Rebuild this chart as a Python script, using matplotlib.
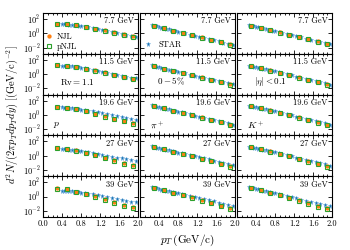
import numpy as np
import matplotlib
matplotlib.use('Agg')
import matplotlib.pyplot as plt
from matplotlib.ticker import FixedLocator, MultipleLocator, NullLocator, FormatStrFormatter

plt.rcParams['font.family'] = 'serif'
plt.rcParams['font.serif'] = ['cmr10']
plt.rcParams['mathtext.fontset'] = 'cm'
plt.rcParams['axes.formatter.use_mathtext'] = True

energies = ['7.7 GeV', '11.5 GeV', '19.6 GeV', '27 GeV', '39 GeV']
species = ['p', 'pi', 'K']

# STAR pT bins (pions, kaons); protons start at 0.4
star_pt = [0.25, 0.3, 0.35, 0.4, 0.45, 0.5, 0.55, 0.6, 0.65, 0.7, 0.75, 0.8,
           0.875, 0.95, 1.05, 1.15, 1.25, 1.35, 1.45, 1.55, 1.65, 1.75, 1.85, 1.95]
star_pt_p = star_pt[3:]
model_pt = [0.3, 0.5, 0.7, 0.9, 1.1, 1.3, 1.5, 1.7, 1.9]

# log10 of the yields
star_p = [
    [1.30, 1.28, 1.25, 1.22, 1.19, 1.15, 1.11, 1.07, 1.02, 0.95, 0.88, 0.75, 0.62, 0.48, 0.35, 0.21, 0.08, -0.06, -0.19, -0.33, -0.46],
    [1.20, 1.18, 1.15, 1.12, 1.08, 1.04, 1.00, 0.96, 0.91, 0.84, 0.76, 0.63, 0.50, 0.36, 0.23, 0.09, -0.05, -0.19, -0.33, -0.47, -0.60],
    [1.05, 1.03, 1.00, 0.97, 0.93, 0.89, 0.85, 0.81, 0.76, 0.69, 0.61, 0.49, 0.37, 0.25, 0.12, 0.00, -0.13, -0.26, -0.39, -0.52, -0.65],
    [0.95, 0.93, 0.90, 0.87, 0.83, 0.79, 0.75, 0.71, 0.66, 0.58, 0.50, 0.38, 0.26, 0.13, 0.01, -0.12, -0.25, -0.38, -0.51, -0.64, -0.77],
    [0.82, 0.80, 0.78, 0.75, 0.72, 0.68, 0.64, 0.60, 0.56, 0.49, 0.41, 0.30, 0.18, 0.06, -0.06, -0.18, -0.31, -0.43, -0.56, -0.69, -0.82],
]
star_pi = [
    [1.14, 1.05, 0.96, 0.87, 0.79, 0.71, 0.63, 0.55, 0.47, 0.39, 0.31, 0.23, 0.12, 0.00, -0.16, -0.32, -0.48, -0.64, -0.80, -0.96, -1.12, -1.28, -1.44, -1.60],
    [1.22, 1.13, 1.04, 0.95, 0.87, 0.79, 0.71, 0.63, 0.55, 0.47, 0.40, 0.32, 0.21, 0.10, -0.05, -0.20, -0.36, -0.51, -0.66, -0.82, -0.97, -1.12, -1.28, -1.43],
    [1.36, 1.27, 1.18, 1.09, 1.01, 0.93, 0.85, 0.77, 0.69, 0.61, 0.54, 0.46, 0.35, 0.24, 0.08, -0.08, -0.24, -0.40, -0.55, -0.71, -0.87, -1.03, -1.19, -1.35],
    [1.33, 1.24, 1.15, 1.07, 0.99, 0.91, 0.83, 0.75, 0.68, 0.60, 0.53, 0.45, 0.34, 0.23, 0.08, -0.07, -0.22, -0.37, -0.52, -0.67, -0.82, -0.97, -1.12, -1.27],
    [1.30, 1.22, 1.14, 1.06, 0.98, 0.90, 0.82, 0.74, 0.67, 0.59, 0.52, 0.44, 0.33, 0.22, 0.07, -0.08, -0.23, -0.38, -0.53, -0.68, -0.83, -0.98, -1.13, -1.28],
]
star_k = [
    [1.12, 1.05, 0.98, 0.91, 0.84, 0.76, 0.69, 0.61, 0.54, 0.46, 0.38, 0.31, 0.19, 0.07, -0.09, -0.25, -0.41, -0.57, -0.73, -0.89, -1.05, -1.21, -1.37, -1.53],
    [1.19, 1.12, 1.05, 0.98, 0.91, 0.83, 0.76, 0.68, 0.61, 0.53, 0.45, 0.38, 0.26, 0.14, -0.02, -0.18, -0.34, -0.50, -0.66, -0.82, -0.98, -1.14, -1.30, -1.46],
    [1.30, 1.23, 1.16, 1.09, 1.02, 0.94, 0.87, 0.79, 0.72, 0.64, 0.56, 0.49, 0.37, 0.25, 0.09, -0.07, -0.23, -0.39, -0.55, -0.71, -0.87, -1.03, -1.19, -1.35],
    [1.28, 1.21, 1.14, 1.07, 1.00, 0.92, 0.85, 0.77, 0.70, 0.62, 0.54, 0.47, 0.35, 0.23, 0.07, -0.09, -0.25, -0.41, -0.57, -0.73, -0.89, -1.05, -1.21, -1.37],
    [1.27, 1.20, 1.13, 1.06, 0.99, 0.91, 0.84, 0.76, 0.69, 0.61, 0.53, 0.46, 0.34, 0.22, 0.06, -0.10, -0.26, -0.42, -0.58, -0.74, -0.90, -1.06, -1.22, -1.38],
]

njl_p = [
    [1.33, 1.25, 1.11, 0.91, 0.67, 0.41, 0.13, -0.15, -0.42],
    [1.25, 1.14, 0.98, 0.77, 0.52, 0.24, -0.06, -0.36, -0.66],
    [1.13, 1.03, 0.82, 0.52, 0.18, -0.18, -0.50, -0.80, -1.15],
    [1.12, 0.97, 0.74, 0.44, 0.08, -0.30, -0.66, -1.00, -1.35],
    [1.15, 1.02, 0.66, 0.42, 0.06, -0.36, -0.78, -1.12, -1.45],
]
pnjl_p = [
    [1.32, 1.24, 1.10, 0.90, 0.65, 0.39, 0.10, -0.18, -0.46],
    [1.24, 1.13, 0.97, 0.75, 0.49, 0.21, -0.10, -0.41, -0.72],
    [1.12, 1.02, 0.80, 0.50, 0.14, -0.22, -0.56, -0.88, -1.25],
    [1.08, 0.95, 0.72, 0.41, 0.04, -0.35, -0.73, -1.08, -1.45],
    [1.10, 1.00, 0.62, 0.40, 0.00, -0.44, -0.88, -1.26, -1.62],
]
njl_pi = [
    [1.05, 0.71, 0.39, 0.07, -0.24, -0.56, -0.88, -1.20, -1.52],
    [1.13, 0.79, 0.47, 0.15, -0.14, -0.45, -0.76, -1.07, -1.38],
    [1.27, 0.93, 0.61, 0.28, -0.02, -0.33, -0.66, -0.98, -1.35],
    [1.24, 0.90, 0.57, 0.24, -0.07, -0.40, -0.74, -1.08, -1.45],
    [1.18, 0.88, 0.52, 0.20, -0.12, -0.50, -0.88, -1.28, -1.65],
]
pnjl_pi = [
    [1.04, 0.70, 0.38, 0.05, -0.26, -0.58, -0.91, -1.23, -1.56],
    [1.12, 0.78, 0.45, 0.13, -0.17, -0.49, -0.81, -1.13, -1.45],
    [1.26, 0.92, 0.59, 0.26, -0.05, -0.37, -0.71, -1.04, -1.42],
    [1.23, 0.89, 0.55, 0.22, -0.10, -0.45, -0.80, -1.15, -1.55],
    [1.16, 0.86, 0.50, 0.17, -0.17, -0.56, -0.96, -1.38, -1.75],
]
njl_k = [
    [1.05, 0.76, 0.46, 0.13, -0.17, -0.49, -0.81, -1.13, -1.45],
    [1.12, 0.83, 0.53, 0.20, -0.11, -0.43, -0.76, -1.09, -1.42],
    [1.23, 0.94, 0.64, 0.31, -0.01, -0.34, -0.68, -1.02, -1.36],
    [1.21, 0.92, 0.61, 0.28, -0.05, -0.39, -0.74, -1.10, -1.46],
    [1.18, 0.88, 0.54, 0.20, -0.16, -0.54, -0.92, -1.30, -1.66],
]
pnjl_k = [
    [1.04, 0.75, 0.44, 0.11, -0.20, -0.52, -0.85, -1.17, -1.50],
    [1.11, 0.82, 0.51, 0.18, -0.14, -0.47, -0.81, -1.15, -1.49],
    [1.22, 0.93, 0.62, 0.28, -0.05, -0.39, -0.74, -1.09, -1.44],
    [1.20, 0.91, 0.59, 0.25, -0.09, -0.45, -0.81, -1.18, -1.55],
    [1.16, 0.86, 0.51, 0.16, -0.21, -0.60, -1.00, -1.40, -1.76],
]

star = {'p': star_p, 'pi': star_pi, 'K': star_k}
njl = {'p': njl_p, 'pi': njl_pi, 'K': njl_k}
pnjl = {'p': pnjl_p, 'pi': pnjl_pi, 'K': pnjl_k}
star_x = {'p': star_pt_p, 'pi': star_pt, 'K': star_pt}

xticks_first = [0.0, 0.4, 0.8, 1.2, 1.6, 2.0]
xticks_other = [0.4, 0.8, 1.2, 1.6, 2.0]

row2_text = [r'$\mathrm{Rv}=1.1$', r'$0-5\%$', r'$|\eta|<0.1$']
row3_text = [r'$p$', r'$\pi^+$', r'$K^+$']

fig, axes = plt.subplots(5, 3, figsize=(3.5, 2.5), dpi=100)
fig.subplots_adjust(left=0.123, right=0.949, top=0.948, bottom=0.132, wspace=0.02, hspace=0)

for i in range(5):
    for j, s in enumerate(species):
        ax = axes[i, j]
        hs, = ax.plot(star_x[s], 10 ** np.array(star[s][i]), ls='none', marker='*',
                      ms=3.6, color='#1f77b4', mec='#80b6e2', mew=0.4, label='STAR')
        hn, = ax.plot(model_pt, 10 ** np.array(njl[s][i]), ls='none', marker='o',
                      ms=2.1, color='#ff7f0e', label='NJL')
        hp, = ax.plot(model_pt, 10 ** np.array(pnjl[s][i]), ls='none', marker='s',
                      ms=2.7, mfc='none', mec='#2ca02c', mew=0.8, label='pNJL')
        ax.set_yscale('log')
        ax.set_xlim(0, 2.0)
        ax.set_ylim(1.4e-3, 7e2)
        ax.yaxis.set_major_locator(FixedLocator([1e-2, 1, 1e2]))
        ax.yaxis.set_minor_locator(NullLocator())
        ax.xaxis.set_major_locator(FixedLocator(xticks_first if j == 0 else xticks_other))
        ax.xaxis.set_minor_locator(MultipleLocator(0.1))
        ax.xaxis.set_major_formatter(FormatStrFormatter('%.1f'))
        ax.tick_params(which='both', direction='in', top=True, right=True,
                       labelsize=6, width=0.6, pad=2)
        ax.tick_params(which='major', length=3)
        ax.tick_params(which='minor', length=1.5)
        for sp in ax.spines.values():
            sp.set_linewidth(0.8)
        if j > 0:
            ax.tick_params(labelleft=False)
        if i < 4:
            ax.tick_params(labelbottom=False)
        ax.text(0.95, 0.8, energies[i], transform=ax.transAxes, ha='right',
                va='center', fontsize=6)
        if i == 1:
            ax.text(0.18, 0.32, row2_text[j], transform=ax.transAxes,
                    ha='left', va='center', fontsize=6.5)
        if i == 2:
            ax.text(0.1, 0.25, row3_text[j], transform=ax.transAxes,
                    ha='left', va='center', fontsize=7)
        if i == 0 and j == 0:
            ax.legend(handles=[hn, hp], loc='lower left', fontsize=6, frameon=False,
                      handlelength=0.8, handletextpad=0.6, borderaxespad=0.1,
                      labelspacing=0.2, borderpad=0.2)
        if i == 0 and j == 1:
            ax.legend(handles=[hs], loc='lower left', fontsize=6, frameon=False,
                      handlelength=0.8, handletextpad=0.8, borderaxespad=0.3,
                      borderpad=0.3)

fig.text(0.035, 0.54, r'$d^2N/(2\pi p_T dp_T dy)\ [(\mathrm{GeV/c})^{-2}]$',
         rotation=90, ha='center', va='center', fontsize=7.5)
fig.text(0.535, 0.04, r'$p_T\,(\mathrm{GeV/c})$', ha='center', va='center', fontsize=8)

fig.savefig('out.png', dpi=100)
